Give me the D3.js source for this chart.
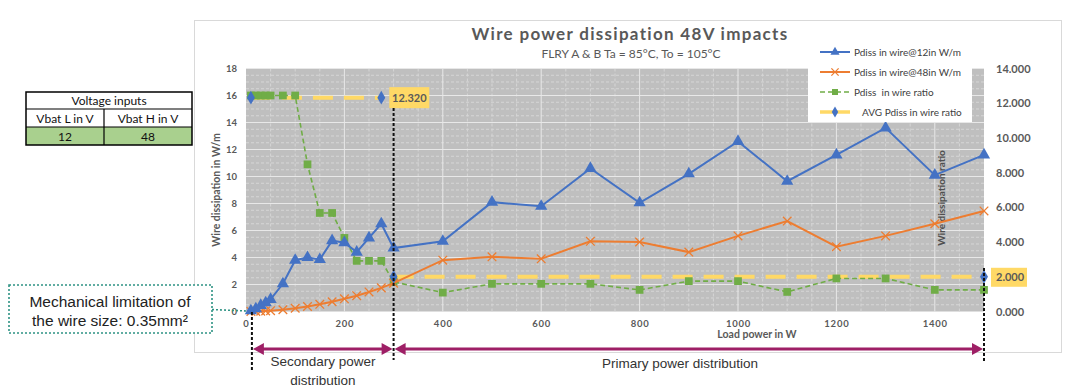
<!DOCTYPE html>
<html><head><meta charset="utf-8">
<script src="https://cdn.jsdelivr.net/npm/d3@7"></script>
<style>
html,body{margin:0;padding:0;background:#fff;}
svg{display:block;}
</style></head>
<body>
<svg id="c" width="1080" height="392"></svg>
<script>
// ---- data ----
const loadPower = [10,20,30,40,50,75,100,125,150,175,200,225,250,275,300,400,500,600,700,800,900,1000,1100,1200,1300,1400,1500];
const pdiss12 = [0.05,0.2,0.45,0.65,0.9,2.05,3.8,4.0,3.85,5.25,5.1,4.4,5.45,6.5,4.7,5.2,8.1,7.8,10.6,8.05,10.2,12.6,9.65,11.6,13.6,10.1,11.6];
const pdiss48 = [0.003,0.01,0.02,0.04,0.06,0.13,0.24,0.37,0.53,0.72,0.94,1.17,1.45,1.75,2.1,3.8,4.05,3.9,5.2,5.15,4.4,5.6,6.7,4.8,5.6,6.5,7.45];
const pdissRatio = [16,16,16,16,16,16,16,10.9,7.3,7.3,5.45,3.75,3.75,3.75,2.2,1.4,2.05,2.05,2.05,1.6,2.25,2.25,1.45,2.45,2.45,1.6,1.6];
const avgSecondaryX = [10,275];
const avgSecondaryValue = 12.32;
const avgPrimaryX = [300,1500];
const avgPrimaryValue = 2.0;
const xTicks = [0,200,400,600,800,1000,1200,1400];
const yLeftTicks = [0,2,4,6,8,10,12,14,16,18];
const yRightTicks = [0,2,4,6,8,10,12,14];
const seriesNames = ["Pdiss in wire@12in W/m","Pdiss in wire@48in W/m","Pdiss  in wire ratio","AVG Pdiss in wire ratio"];
const tableHeader = "Voltage inputs";
const tableCols = ["Vbat L in V","Vbat H in V"];
const tableVals = ["12","48"];
const secondaryLimit = 12, primaryStart = 300, primaryEnd = 1500;

// ---- setup ----
const svg = d3.select("#c");
const GRAY = "#595959";
const BLUE = "#4472C4", ORANGE = "#ED7D31", GREEN = "#70AD47", YELLOW = "#FFD966";
const MAG = "#9E1F66";
const FONT = "Lato, 'Open Sans', sans-serif";
const ARIAL = "'Liberation Sans', Arial, sans-serif";

const x = d3.scaleLinear().domain([0,1500]).range([246,984]);
const yL = d3.scaleLinear().domain([0,18]).range([311.5,68.5]);
const yR = d3.scaleLinear().domain([0,14]).range([311.5,68.5]);

// chart area border
svg.append("rect").attr("x",194.5).attr("y",20.5).attr("width",867).attr("height",332)
  .attr("fill","#fff").attr("stroke","#D9D9D9").attr("stroke-width",1);

// plot background
svg.append("rect").attr("x",x(0)).attr("y",yL(18)).attr("width",x(1500)-x(0)).attr("height",yL(0)-yL(18))
  .attr("fill","#BFBFBF");

// gridlines
const g = svg.append("g");
const minorX = d3.range(50,1500,50).filter(v=>v%200!==0);
const minorY = d3.range(0.5,18,0.5).filter(v=>v%2!==0);
g.selectAll(".mx").data(minorX).join("line")
  .attr("x1",d=>x(d)).attr("x2",d=>x(d)).attr("y1",yL(18)).attr("y2",yL(0))
  .attr("stroke","#D6D6D6").attr("stroke-width",1).attr("stroke-dasharray","3,2");
g.selectAll(".my").data(minorY).join("line")
  .attr("x1",x(0)).attr("x2",x(1500)).attr("y1",d=>yL(d)).attr("y2",d=>yL(d))
  .attr("stroke","#D6D6D6").attr("stroke-width",1).attr("stroke-dasharray","3,2");
g.selectAll(".Mx").data(xTicks.slice(1)).join("line")
  .attr("x1",d=>x(d)).attr("x2",d=>x(d)).attr("y1",yL(18)).attr("y2",yL(0))
  .attr("stroke","#E8E8E8").attr("stroke-width",1);
g.selectAll(".My").data(yLeftTicks.slice(1)).join("line")
  .attr("x1",x(0)).attr("x2",x(1500)).attr("y1",d=>yL(d)).attr("y2",d=>yL(d))
  .attr("stroke","#E8E8E8").attr("stroke-width",1);

// axes
const axX = svg.append("g").attr("transform",`translate(0,${yL(0)})`)
  .call(d3.axisBottom(x).tickValues(xTicks).tickFormat(d3.format("d")).tickSize(0).tickPadding(9));
const axL = svg.append("g").attr("transform",`translate(${x(0)},0)`)
  .call(d3.axisLeft(yL).tickValues(yLeftTicks).tickSize(0).tickPadding(9));
const axR = svg.append("g").attr("transform",`translate(${x(1500)},0)`)
  .call(d3.axisRight(yR).tickValues(yRightTicks).tickFormat(d3.format(".3f")).tickSize(0).tickPadding(12));
[axX,axL,axR].forEach(a=>{a.select(".domain").remove();});
axX.selectAll("text").attr("font-family",FONT).attr("font-weight","bold").attr("font-size",9.5).attr("fill",GRAY).attr("letter-spacing",0.8);
axL.selectAll("text").attr("font-family",FONT).attr("font-weight","bold").attr("font-size",9.5).attr("fill",GRAY);
axR.selectAll("text").attr("font-family",FONT).attr("font-weight","bold").attr("font-size",11).attr("fill",GRAY);

// highlighted 2.000 label box (data label of AVG)
const hl = axR.selectAll(".tick").filter(d=>d===avgPrimaryValue);
hl.insert("rect","text").attr("x",7).attr("y",-9.5).attr("width",36).attr("height",19).attr("fill",YELLOW);

// axis titles
svg.append("text").attr("x",757).attr("y",338).attr("text-anchor","middle")
  .attr("font-family",FONT).attr("font-weight","bold").attr("font-size",10.5).attr("fill",GRAY).text("Load power in W");
svg.append("text").attr("transform","translate(220,190) rotate(-90)").attr("text-anchor","middle")
  .attr("font-family",FONT).attr("font-weight","bold").attr("font-size",10.5).attr("fill",GRAY).text("Wire dissipation in W/m");
svg.append("text").attr("transform","translate(945,198) rotate(-90)").attr("text-anchor","middle")
  .attr("font-family",FONT).attr("font-weight","bold").attr("font-size",10).attr("fill","#505050").text("Wire dissipation ratio");

// title
svg.append("text").attr("x",630).attr("y",40).attr("text-anchor","middle")
  .attr("font-family",FONT).attr("font-weight","bold").attr("font-size",17).attr("fill",GRAY)
  .attr("letter-spacing",1.3).text("Wire power dissipation 48V impacts");
svg.append("text").attr("x",631).attr("y",58).attr("text-anchor","middle")
  .attr("font-family",FONT).attr("font-size",12).attr("fill",GRAY).text("FLRY A & B Ta = 85°C, To = 105°C");

// series
const pts = (ys)=>loadPower.map((p,i)=>[p,ys[i]]);
const lineL = d3.line().x(d=>x(d[0])).y(d=>yL(d[1]));
const lineR = d3.line().x(d=>x(d[0])).y(d=>yR(d[1]));

// AVG yellow dashed
const avgSegs = [avgSecondaryX.map(v=>[v,avgSecondaryValue]), avgPrimaryX.map(v=>[v,avgPrimaryValue])];
svg.selectAll(".avg").data(avgSegs).join("path").attr("d",lineR)
  .attr("fill","none").attr("stroke",YELLOW).attr("stroke-width",4).attr("stroke-dasharray","20,11");

// green ratio
svg.append("path").attr("d",lineL(pts(pdissRatio))).attr("fill","none").attr("stroke",GREEN)
  .attr("stroke-width",1.6).attr("stroke-dasharray","5,3");
svg.selectAll(".gm").data(pts(pdissRatio)).join("path")
  .attr("transform",d=>`translate(${x(d[0])},${yL(d[1])})`)
  .attr("d",d3.symbol(d3.symbolSquare,60)).attr("fill",GREEN);

// orange 48V
svg.append("path").attr("d",lineL(pts(pdiss48))).attr("fill","none").attr("stroke",ORANGE).attr("stroke-width",2);
svg.selectAll(".om").data(pts(pdiss48)).join("path")
  .attr("transform",d=>`translate(${x(d[0])},${yL(d[1])})`)
  .attr("d",d3.symbol(d3.symbolX,50)).attr("fill","none").attr("stroke",ORANGE).attr("stroke-width",1.3);

// blue 12V
svg.append("path").attr("d",lineL(pts(pdiss12))).attr("fill","none").attr("stroke",BLUE).attr("stroke-width",2);
svg.selectAll(".bm").data(pts(pdiss12)).join("path")
  .attr("transform",d=>`translate(${x(d[0])},${yL(d[1])})`)
  .attr("d",d3.symbol(d3.symbolTriangle,65)).attr("fill",BLUE);

// AVG diamond markers
svg.selectAll(".am").data(avgSegs.flat()).join("path")
  .attr("transform",d=>`translate(${x(d[0])},${yR(d[1])})`)
  .attr("d",d3.symbol(d3.symbolDiamond,55)).attr("fill",BLUE);

// 12.320 label
const lp = avgSegs[0][1];
svg.append("rect").attr("x",x(lp[0])+8).attr("y",yR(lp[1])-10.5).attr("width",40).attr("height",21).attr("fill",YELLOW);
svg.append("text").attr("x",x(lp[0])+28).attr("y",yR(lp[1])+4).attr("text-anchor","middle")
  .attr("font-family",FONT).attr("font-weight","bold").attr("font-size",11).attr("fill",GRAY)
  .text(d3.format(".3f")(lp[1]));

// legend
const lg = svg.append("g");
lg.append("rect").attr("x",808).attr("y",38).attr("width",164).attr("height",84).attr("fill","#fff");
const legY = [52,72,92,112];
const lgCol = [BLUE,ORANGE,GREEN,YELLOW];
seriesNames.forEach((n,i)=>{
  const yy = legY[i];
  const ln = lg.append("line").attr("x1",820).attr("x2",850).attr("y1",yy).attr("y2",yy)
    .attr("stroke",lgCol[i]).attr("stroke-width",i===3?3.5:2);
  if(i===2) ln.attr("stroke-dasharray","5,3").attr("stroke-width",1.6);
  let sym, fill=lgCol[i], stroke="none";
  if(i===0) sym=d3.symbolTriangle;
  if(i===1){sym=d3.symbolX; fill="none"; stroke=ORANGE;}
  if(i===2) sym=d3.symbolSquare;
  if(i===3){sym=d3.symbolDiamond; fill=BLUE;}
  lg.append("path").attr("transform",`translate(835,${yy})`).attr("d",d3.symbol(sym,36))
    .attr("fill",fill).attr("stroke",stroke).attr("stroke-width",1.3);
  lg.append("text").attr("x",i===3?862:854).attr("y",yy+3.5).attr("font-family",FONT).attr("font-size",10)
    .attr("fill","#404040").attr("xml:space","preserve").style("white-space","pre").text(n);
});

// black dashed region markers
const dash = (xv,y1,y2)=>svg.append("line").attr("x1",x(xv)).attr("x2",x(xv)).attr("y1",y1).attr("y2",y2)
  .attr("stroke","#111").attr("stroke-width",2).attr("stroke-dasharray","3,2");
dash(secondaryLimit,312,372);
dash(primaryStart,108,360);
dash(primaryEnd,268,362);

// arrows
function arrow(x1,x2,yy){
  svg.append("line").attr("x1",x1+8).attr("x2",x2-8).attr("y1",yy).attr("y2",yy).attr("stroke",MAG).attr("stroke-width",3);
  svg.append("path").attr("d",`M${x1},${yy} L${x1+11},${yy-6} L${x1+11},${yy+6} Z`).attr("fill",MAG);
  svg.append("path").attr("d",`M${x2},${yy} L${x2-11},${yy-6} L${x2-11},${yy+6} Z`).attr("fill",MAG);
}
arrow(x(secondaryLimit)+1,x(primaryStart)-1,349);
arrow(x(primaryStart)+1,x(primaryEnd)-1,349);
svg.append("text").attr("x",323).attr("y",366).attr("text-anchor","middle").attr("font-family",ARIAL)
  .attr("font-size",13.5).attr("fill","#333").text("Secondary power");
svg.append("text").attr("x",323).attr("y",385).attr("text-anchor","middle").attr("font-family",ARIAL)
  .attr("font-size",13.5).attr("fill","#333").text("distribution");
svg.append("text").attr("x",680).attr("y",368).attr("text-anchor","middle").attr("font-family",ARIAL)
  .attr("font-size",13.5).attr("fill","#333").text("Primary power distribution");

// mechanical limitation box
svg.append("line").attr("x1",212).attr("x2",x(0)).attr("y1",309.5).attr("y2",311)
  .attr("stroke","#2E9384").attr("stroke-width",1.6).attr("stroke-dasharray","2,2");
svg.append("rect").attr("x",9).attr("y",285).attr("width",203).attr("height",48)
  .attr("fill","#fff").attr("stroke","#2E9384").attr("stroke-width",1.6).attr("stroke-dasharray","2,2");
svg.append("text").attr("x",110).attr("y",307).attr("text-anchor","middle").attr("font-family",ARIAL)
  .attr("font-size",15.5).attr("fill","#222").text("Mechanical limitation of");
svg.append("text").attr("x",110).attr("y",326).attr("text-anchor","middle").attr("font-family",ARIAL)
  .attr("font-size",15.5).attr("fill","#222").text("the wire size: 0.35mm²");

// voltage table
const t = svg.append("g");
t.append("rect").attr("x",26).attr("y",127).attr("width",166).attr("height",18).attr("fill","#A9D08E");
t.append("rect").attr("x",26).attr("y",92).attr("width",166).attr("height",53).attr("fill","none").attr("stroke","#000").attr("stroke-width",1.5);
t.append("line").attr("x1",26).attr("x2",192).attr("y1",109).attr("y2",109).attr("stroke","#000").attr("stroke-width",1.2);
t.append("line").attr("x1",26).attr("x2",192).attr("y1",127).attr("y2",127).attr("stroke","#000").attr("stroke-width",1.2);
t.append("line").attr("x1",104).attr("x2",104).attr("y1",109).attr("y2",145).attr("stroke","#000").attr("stroke-width",1.2);
const tt = (tx,ty,s)=>t.append("text").attr("x",tx).attr("y",ty).attr("text-anchor","middle")
  .attr("font-family",FONT).attr("font-size",12).attr("fill","#111").text(s);
tt(109,105,tableHeader);
tt(65,123,tableCols[0]); tt(148,123,tableCols[1]);
tt(65,141,tableVals[0]); tt(148,141,tableVals[1]);
</script>
</body></html>
